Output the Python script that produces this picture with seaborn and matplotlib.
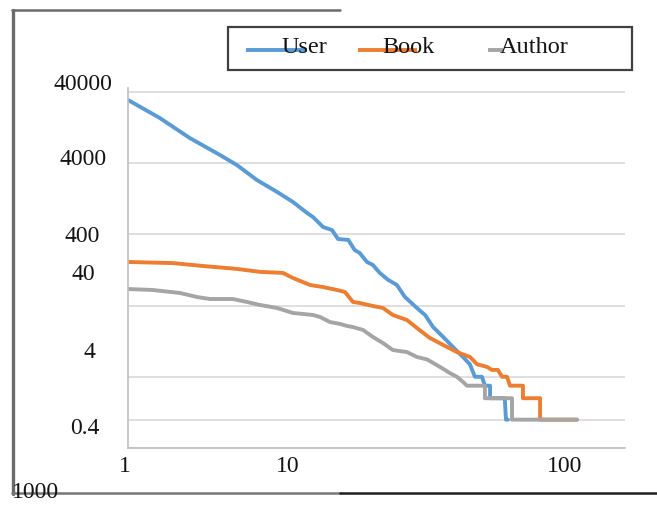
import matplotlib
matplotlib.use("Agg")
import matplotlib.pyplot as plt
from matplotlib.lines import Line2D
from matplotlib.patches import Rectangle
import seaborn as sns
import pandas as pd

# ---- data ----
user_x = [1, 1.40, 1.92, 2.64, 3.15, 3.89, 4.81, 5.69, 6.60, 7.03,
          7.81, 8.59, 9.14, 10.2, 10.9, 11.5, 12.4, 13.2, 14.2, 15.5,
          17.0, 18.5, 21.0, 22.9, 24.9, 27.7, 30.7, 34.1, 36.7, 38.7,
          41.7, 43.0, 45.4, 45.4, 53.0, 53.7, 54.8]
user_y = [30900, 17200, 9000, 5200, 3770, 2320, 1580, 1140, 800, 700,
          508, 460, 345, 334, 241, 219, 164, 149, 115, 92,
          78, 53, 37, 29.5, 20, 14.5, 10.5, 7.6, 6, 4,
          4, 3, 3, 2, 2, 1, 1]
book_x = [1, 1.61, 2.20, 3.15, 4.02, 5.12, 5.69, 6.81, 7.81, 9.05,
          9.84, 10.7, 11.5, 13.2, 14.7, 16.3, 18.9, 21.0, 24.1, 27.7,
          32.0, 36.7, 39.6, 44.0, 46.3, 49.3, 51.5, 54.3, 56.0, 64.2,
          64.2, 76.9, 76.9, 113.5]
book_y = [164, 158, 144, 131, 119, 115, 97.6, 77.9, 72.9, 66.2,
          62.1, 45.0, 43.5, 39.5, 37.0, 29.5, 25.1, 19.4, 14.0, 11.2,
          8.9, 7.6, 6, 5.5, 5, 5, 4, 4, 3, 3,
          2, 2, 1, 1]
author_x = [1, 1.30, 1.73, 2.07, 2.37, 3.02, 3.50, 4.02, 4.81, 5.69,
            7.03, 7.56, 8.40, 9.34, 10.05, 10.7, 11.9, 13.2, 14.7, 16.3,
            18.9, 21.0, 23.4, 26.8, 29.8, 32.0, 34.1, 35.6, 43.0, 43.0,
            57.2, 57.2, 113.5]
author_y = [68.4, 66.2, 60.1, 52.8, 49.5, 49.5, 45.0, 40.8, 37.0, 31.5,
            29.5, 27.7, 23.5, 22.1, 20.7, 20.0, 18.2, 14.5, 11.9, 9.5,
            8.9, 7.6, 7, 5.5, 4.5, 4, 3.4, 3, 3, 2,
            2, 1, 1]

series_names = ["User", "Book", "Author"]
series_colors = ["#5B9BD5", "#ED7D31", "#A5A5A5"]
y_labels = ["40000", "4000", "400", "40", "4", "0.4"]
x_labels = ["1", "10", "100"]
grid_values = [0.4, 1, 4, 40, 400, 4000, 40000]

frames = []
for name, xs, ys in zip(series_names, [user_x, book_x, author_x],
                        [user_y, book_y, author_y]):
    frames.append(pd.DataFrame({"x": xs, "y": ys, "series": name}))
df = pd.concat(frames, ignore_index=True)

sns.set_theme(style="white")
plt.rcParams["font.family"] = ["Liberation Serif", "DejaVu Serif"]

W, H = 657, 505
fig = plt.figure(figsize=(W / 100, H / 100), dpi=100)

def fx(px):
    return px / W

def fy(py):
    return 1 - py / H

ax = fig.add_axes([fx(128), fy(448), fx(625) - fx(128), fy(88) - fy(448)])

LW = 2.8
sns.lineplot(data=df, x="x", y="y", hue="series", hue_order=series_names,
             palette=dict(zip(series_names, series_colors)),
             estimator=None, sort=False, units="series", lw=LW, ax=ax,
             legend=False)

ax.set_xscale("log")
ax.set_yscale("log")
ax.set_xlim(1, 188.2)
ax.set_ylim(0.4, 45500)
ax.set_xticks([])
ax.xaxis.set_minor_locator(matplotlib.ticker.NullLocator())
ax.set_yticks(grid_values)
ax.yaxis.set_minor_locator(matplotlib.ticker.NullLocator())
ax.tick_params(axis="both", length=0, labelleft=False, labelbottom=False)
ax.grid(axis="y", color="#D9D9D9", lw=1.2)
ax.grid(axis="x", visible=False)
ax.set_xlabel("")
ax.set_ylabel("")
for s in ["top", "right"]:
    ax.spines[s].set_visible(False)
for s in ["left", "bottom"]:
    ax.spines[s].set_color("#BFBFBF")
    ax.spines[s].set_linewidth(1.2)

fs = 17
tc = "#141414"
# y labels (offset as in the reference)
y_label_pos = [84, 159, 237, 275, 352, 428]
y_label_x = [83, 83, 82, 83, 89, 85]
for t, px, py in zip(y_labels, y_label_x, y_label_pos):
    fig.text(fx(px), fy(py), t, ha="center", va="center", fontsize=fs,
             color=tc)
x_label_pos = [125, 288, 565]
for t, px in zip(x_labels, x_label_pos):
    fig.text(fx(px), fy(466), t, ha="center", va="center", fontsize=fs,
             color=tc)
fig.text(fx(35), fy(492), "1000", ha="center", va="center", fontsize=fs,
         color=tc)

# outer frame fragments
fig.add_artist(Line2D([fx(13), fx(13)], [fy(10), fy(494)], color="#6b6b6b",
                      lw=2.4))
fig.add_artist(Line2D([fx(12), fx(340)], [fy(10), fy(10)], color="#6b6b6b",
                      lw=1.8))
fig.add_artist(Line2D([fx(12), fx(340)], [fy(493), fy(493)], color="#777777",
                      lw=1.8))
fig.add_artist(Line2D([fx(340), fx(657)], [fy(493), fy(493)], color="#1e1e1e",
                      lw=1.8))

# legend box (Excel-style: keys overlap the text)
fig.add_artist(Rectangle((fx(228), fy(70)), fx(632) - fx(228), fy(27) - fy(70),
                         transform=fig.transFigure, facecolor="white",
                         edgecolor="#404040", lw=1.6, zorder=3))
key_spans = [(246, 307), (358, 417), (488, 503)]
text_left = [282, 382, 500]
for name, c, (x0, x1), tx in zip(series_names, series_colors, key_spans,
                                 text_left):
    fig.add_artist(Line2D([fx(x0), fx(x1)], [fy(50), fy(50)], color=c,
                          lw=LW, zorder=4, solid_capstyle="butt"))
    fig.text(fx(tx), fy(53), name, ha="left", va="baseline", fontsize=17.5,
             color=tc, zorder=5)

fig.savefig("out.png", dpi=100)
